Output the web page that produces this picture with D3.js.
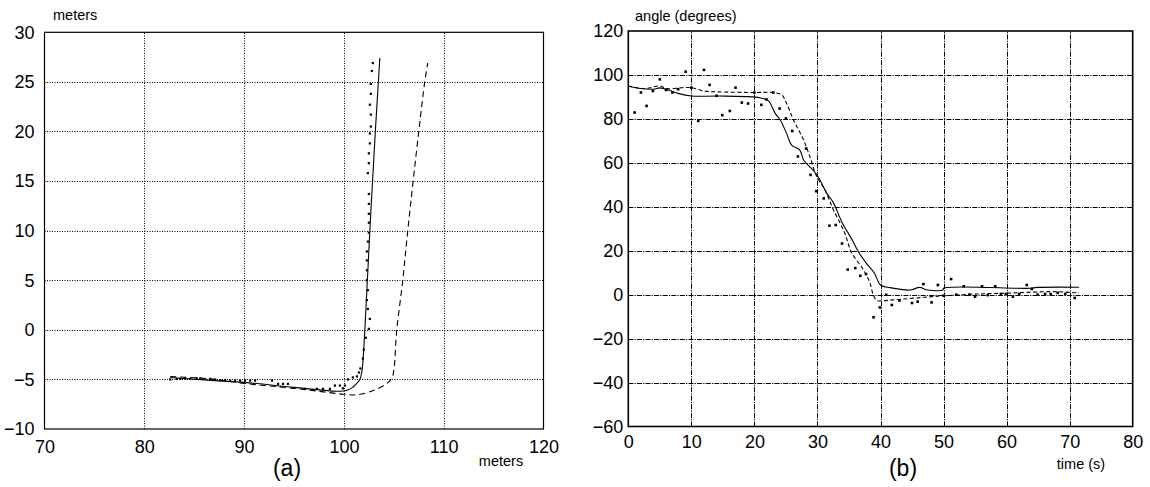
<!DOCTYPE html>
<html><head><meta charset="utf-8">
<script src="https://d3js.org/d3.v7.min.js"></script>
<style>
html,body{margin:0;padding:0;background:#fff;}
svg{display:block;font-family:"Liberation Sans",Arial,sans-serif;}
</style></head>
<body>
<svg id="chart" width="1150" height="487"></svg>
<script>
// ---------- Panel (a): trajectory in meters ----------
const aXTicks = [70, 80, 90, 100, 110, 120];
const aYTicks = [-10, -5, 0, 5, 10, 15, 20, 25, 30];
const aSolidX = [82.6, 86, 90, 95, 99.6, 100.3, 100.8, 101.1, 101.6, 101.8, 102.1, 102.6, 103.15, 103.6];
const aSolidY = [-4.8, -5.05, -5.3, -5.8, -6.2, -6.1, -5.85, -5.6, -5.0, -4.2, 0, 10, 20, 27.4];
const aDashX = [82.6, 86.6, 90, 95, 98.3, 100, 101.3, 103, 104.3, 104.8, 105.0, 105.3, 105.9, 106.4, 107.5, 108.1, 108.4];
const aDashY = [-4.7, -4.95, -5.4, -5.9, -6.3, -6.5, -6.55, -6.1, -5.4, -4.9, -4.1, 0, 5, 10, 20, 25, 26.9];
const aDotX = [82.6, 83.25, 83.6, 84.1, 84.6, 85.25, 85.6, 86.6, 87.1, 87.6, 88.1, 88.6, 89.1, 89.6, 90.1, 90.6, 91.1,
  92.8, 93.4, 93.9, 94.4, 96.1, 97.3, 97.9, 98.6, 99.1, 99.6, 99.9, 100.1, 100.4, 100.9, 101.3, 101.5, 101.65, 101.9, 102.0,
  102.2, 102.5, 102.6, 102.4, 102.3, 102.4, 102.3, 102.3, 102.3, 102.3, 102.4, 102.5, 102.5, 102.5, 102.5, 102.5,
  102.4, 102.5, 102.5, 102.6, 102.6, 102.7, 102.7, 102.6, 102.7, 102.7, 102.8, 102.9];
const aDotY = [-5.0, -4.95, -4.95, -4.9, -4.95, -4.88, -4.9, -4.95, -5.02, -5.08, -5.08, -5.12, -5.12, -5.12, -5.12, -5.12, -5.12,
  -5.12, -5.45, -5.45, -5.45, -5.95, -5.95, -5.95, -5.95, -5.62, -5.62, -5.9, -5.62, -5.0, -4.8, -4.7, -4.3, -3.9, -2.9, -2.0,
  -0.8, 0.1, 1.1, 2.1, 3.0, 4.0, 5.0, 6.0, 7.0, 7.9, 8.9, 9.8, 10.8, 11.7, 12.7, 13.7,
  15.8, 16.8, 17.8, 18.8, 19.8, 20.5, 21.7, 22.7, 23.8, 24.8, 26.1, 26.9];

// ---------- Panel (b): angle vs time ----------
const bXTicks = [0, 10, 20, 30, 40, 50, 60, 70, 80];
const bYTicks = [-60, -40, -20, 0, 20, 40, 60, 80, 100, 120];
const bSolidT = [0, 2, 4, 5, 6.5, 7.9, 10, 14.3, 20, 21, 22.2, 23.3, 24.1, 25.1, 25.9, 27.2, 27.8, 29.3, 30.1, 31.5, 32.5,
  33.9, 35.4, 36.5, 37.7, 39.0, 40.0, 41.5, 44.7, 46.2, 47.5, 49.9, 50, 63.7, 64.8, 71.5];
const bSolidV = [95, 93.8, 93.5, 94.1, 93, 91.6, 90.4, 90.4, 90, 89.5, 88.3, 82.5, 79.5, 73.4, 68.1, 65.8, 61.3, 56.7, 53.7, 46.1, 42,
  32.9, 25.5, 19.5, 14.5, 10.0, 4.4, 3.2, 2.1, 3.3, 2.1, 2.1, 2.9, 2.9, 3.3, 3.4];
const bDashT = [0, 2.6, 5, 6.1, 8.5, 10, 12, 14.3, 20, 22.8, 24.3, 25.1, 26.2, 27.8, 28.8, 29.9, 31.2, 32.5, 34.3, 35.4, 37.2,
  38.3, 38.9, 39.5, 40.6, 43.5, 47, 50, 55.3, 61.1, 67, 69, 71.5];
const bDashV = [95, 93.8, 95, 93.8, 94.2, 94.2, 92.7, 92.3, 92, 92, 91, 87.1, 79.5, 70.4, 62.8, 53.7, 47.6, 38.8, 28.3, 19.2, 11.7,
  5.6, -0.5, -2.7, -2.7, -2, -1.2, -0.5, 0.3, 0.8, 1.4, 1.2, 0.8];
const bDotT = [1, 2, 2.9, 3.9, 5, 6, 7, 7.9, 9.1, 10, 11.1, 12, 12.9, 14, 14.9, 16.1, 17, 18, 19, 20, 21.1, 21.9, 23, 24, 25, 26,
  26.9, 28.2, 28.9, 29.8, 31, 31.9, 32.9, 33.9, 34.8, 36, 36.8, 37.7, 38.9, 39.9, 40.9, 41.8, 43, 45, 45.9, 46.8, 48.1, 49.1,
  50, 51.2, 52, 53.2, 54.1, 55, 56.1, 57, 58.2, 59.1, 59.9, 61, 62, 63.2, 64, 64.9, 66.1, 67, 68.1, 69.3, 70.8];
const bDotV = [82.9, 92, 85.9, 92.7, 98, 93.2, 92, 93.5, 101.5, 94.2, 79.1, 102.3, 95.5, 90.5, 81.7, 83.6, 94.2, 87.4, 87, 92, 86.4,
  88.9, 92, 84.7, 80.2, 74.5, 62.9, 66.5, 54.5, 47.1, 43.8, 31.4, 31.7, 23.3, 11.4, 12.1, 8.6, 9.4, -10.3, -5.8, 0, -4.7, -2.7,
  -3.8, -3.2, 4.8, -3.5, 4.4, -0.5, 7.1, 0, 3.8, 0, -0.9, 3.8, -0.2, 3.8, 0.3, 0.3, -0.9, 0.3, 4.4, 2.6, 0, 0.3, 0.3, 0.8, 0.3, -1.5];

const svg = d3.select("#chart");
const FONT_TICK = 18, FONT_LAB = 14.5;

function panel(cfg) {
  const x = d3.scaleLinear().domain(cfg.xDom).range(cfg.xRange);
  const y = d3.scaleLinear().domain(cfg.yDom).range(cfg.yRange);
  const g = svg.append("g");
  // grid
  g.append("g").selectAll("line").data(cfg.xTicks.slice(1, -1)).join("line")
    .attr("x1", d => Math.round(x(d)) + 0.5).attr("x2", d => Math.round(x(d)) + 0.5)
    .attr("y1", cfg.yRange[0]).attr("y2", cfg.yRange[1])
    .attr("stroke", "#000").attr("stroke-width", cfg.gridW).attr("stroke-dasharray", cfg.gridDash);
  g.append("g").selectAll("line").data(cfg.yTicks.slice(1, -1)).join("line")
    .attr("y1", d => Math.round(y(d)) + 0.5).attr("y2", d => Math.round(y(d)) + 0.5)
    .attr("x1", cfg.xRange[0]).attr("x2", cfg.xRange[1])
    .attr("stroke", "#000").attr("stroke-width", cfg.gridW).attr("stroke-dasharray", cfg.gridDash);
  // frame
  g.append("rect").attr("x", cfg.xRange[0]).attr("y", cfg.yRange[1])
    .attr("width", cfg.xRange[1] - cfg.xRange[0]).attr("height", cfg.yRange[0] - cfg.yRange[1])
    .attr("fill", "none").attr("stroke", "#000").attr("stroke-width", cfg.frameW);
  // axes (labels only)
  const xa = g.append("g").attr("transform", `translate(0,${cfg.yRange[0]})`)
    .call(d3.axisBottom(x).tickValues(cfg.xTicks).tickSize(0).tickPadding(cfg.xPad).tickFormat(d3.format("d")));
  const ya = g.append("g").attr("transform", `translate(${cfg.xRange[0]},0)`)
    .call(d3.axisLeft(y).tickValues(cfg.yTicks).tickSize(0).tickPadding(cfg.yPad).tickFormat(d3.format("d")));
  [xa, ya].forEach(a => {
    a.select(".domain").remove();
    a.selectAll("text").attr("fill", "#000").style("font-size", FONT_TICK + "px")
      .style("font-family", '"Liberation Sans",Arial,sans-serif');
  });
  // series
  const ln = d3.line().x(d => x(d[0])).y(d => y(d[1])).curve(d3.curveCatmullRom.alpha(0.5));
  g.append("path").datum(d3.zip(cfg.solidX, cfg.solidY)).attr("d", ln)
    .attr("fill", "none").attr("stroke", "#000").attr("stroke-width", 1.1);
  g.append("path").datum(d3.zip(cfg.dashX, cfg.dashY)).attr("d", ln)
    .attr("fill", "none").attr("stroke", "#000").attr("stroke-width", 1.1).attr("stroke-dasharray", cfg.lineDash);
  g.append("g").selectAll("rect").data(d3.zip(cfg.dotX, cfg.dotY)).join("rect")
    .attr("x", d => x(d[0]) - cfg.dotS / 2).attr("y", d => y(d[1]) - cfg.dotS / 2)
    .attr("width", cfg.dotS).attr("height", cfg.dotS).attr("fill", "#000");
  // labels
  cfg.labels.forEach(l => {
    g.append("text").attr("x", l.x).attr("y", l.y).attr("text-anchor", l.anchor || "middle")
      .style("font-size", l.size + "px").attr("fill", "#000").text(l.text);
  });
}

panel({
  xDom: [70, 120], yDom: [-10, 30], xRange: [44.5, 543.5], yRange: [429, 32.3],
  xTicks: aXTicks, yTicks: aYTicks, gridDash: "1,1.5", gridW: 1, frameW: 1.2, xPad: 11, yPad: 10,
  solidX: aSolidX, solidY: aSolidY, dashX: aDashX, dashY: aDashY, dotX: aDotX, dotY: aDotY,
  lineDash: "6,4", dotS: 2.2,
  labels: [
    { text: "meters", x: 53, y: 20, anchor: "start", size: FONT_LAB },
    { text: "meters", x: 501, y: 466, size: FONT_LAB },
    { text: "(a)", x: 287, y: 476, size: 23 }
  ]
});

panel({
  xDom: [0, 80], yDom: [-60, 120], xRange: [628.3, 1132.7], yRange: [426.5, 31],
  xTicks: bXTicks, yTicks: bYTicks, gridDash: "5,1.2,1.2,1.2", gridW: 1, frameW: 1.6, xPad: 9, yPad: 5,
  solidX: bSolidT, solidY: bSolidV, dashX: bDashT, dashY: bDashV, dotX: bDotT, dotY: bDotV,
  lineDash: "4,2.5", dotS: 2.6,
  labels: [
    { text: "angle (degrees)", x: 635, y: 21, anchor: "start", size: FONT_LAB },
    { text: "time (s)", x: 1081, y: 469, size: FONT_LAB },
    { text: "(b)", x: 903, y: 476, size: 23 }
  ]
});
</script>
</body></html>
